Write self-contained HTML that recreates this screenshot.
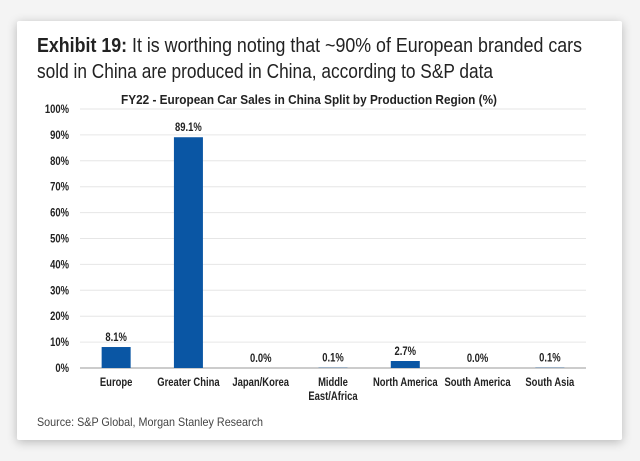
<!DOCTYPE html>
<html><head><meta charset="utf-8"><style>
body{margin:0;width:640px;height:461px;background:#f4f4f4;overflow:hidden;font-family:"Liberation Sans",sans-serif}
#card{position:absolute;left:17px;top:21px;width:605px;height:419px;background:#fff;box-shadow:0 2px 10px rgba(0,0,0,0.25);border-radius:2px}
svg{position:absolute;left:0;top:0}
</style></head><body>
<div id="card"></div>
<svg id="c" width="640" height="461">
<text id="t1" x="37" y="52" font-size="20.5" fill="#222" textLength="545" lengthAdjust="spacingAndGlyphs"><tspan font-weight="bold">Exhibit 19:</tspan>  It is worthing noting that ~90% of European branded cars</text>
<text x="37" y="78" font-size="20.5" fill="#222" textLength="456" lengthAdjust="spacingAndGlyphs">sold in China are produced in China, according to S&amp;P data</text>
<text x="121" y="104" font-size="13" font-weight="bold" fill="#222" textLength="376" lengthAdjust="spacingAndGlyphs">FY22 - European Car Sales in China Split by Production Region (%)</text>
<text x="37" y="426" font-size="12" fill="#444" textLength="226" lengthAdjust="spacingAndGlyphs">Source: S&amp;P Global, Morgan Stanley Research</text>
</svg>
<script>
const categories=[["Europe"],["Greater China"],["Japan/Korea"],["Middle","East/Africa"],["North America"],["South America"],["South Asia"]];
const values=[8.1,89.1,0.0,0.1,2.7,0.0,0.1];
const valueLabels=["8.1%","89.1%","0.0%","0.1%","2.7%","0.0%","0.1%"];
const ticks=[0,10,20,30,40,50,60,70,80,90,100];
const svg=document.getElementById('c'),NS="http://www.w3.org/2000/svg";
const x0=80,x1=586,y0=368,y1=109;
const y=v=>y0-(v/100)*(y0-y1);
const step=(x1-x0)/categories.length;
const xc=i=>x0+step*(i+0.5);
function mk(t,a,txt){const e=document.createElementNS(NS,t);for(const k in a)e.setAttribute(k,a[k]);if(txt!=null)e.textContent=txt;svg.appendChild(e);
 if(t==='text'){const L=e.getComputedTextLength();e.setAttribute('textLength',L*0.82);e.setAttribute('lengthAdjust','spacingAndGlyphs');}
 return e;}
ticks.forEach(t=>{
 const l=mk('line',{x1:x0,x2:x1,y1:y(t),y2:y(t),stroke:t==0?'#bbb':'#e6e6e6','stroke-width':t==0?1.5:1});
 
 
 const tx=mk('text',{x:69,y:y(t)+4,'text-anchor':'end','font-size':11.5,'font-weight':'bold',fill:'#222'},t+'%');
 
 
});
values.forEach((v,i)=>{
 const w=29;
 const r=mk('rect',{x:xc(i)-w/2,y:y(v),width:w,height:y0-y(v),fill:'#0a56a4'});
 
 
 const vl=mk('text',{x:xc(i),y:y(v)-6,'text-anchor':'middle','font-size':11.5,'font-weight':'bold',fill:'#222'},valueLabels[i]);
 
 
 categories[i].forEach((s,j)=>{
  const c=mk('text',{x:xc(i),y:386+j*14,'text-anchor':'middle','font-size':11.5,'font-weight':'bold',fill:'#222'},s);
  
  
 });
});
</script>
</body></html>
